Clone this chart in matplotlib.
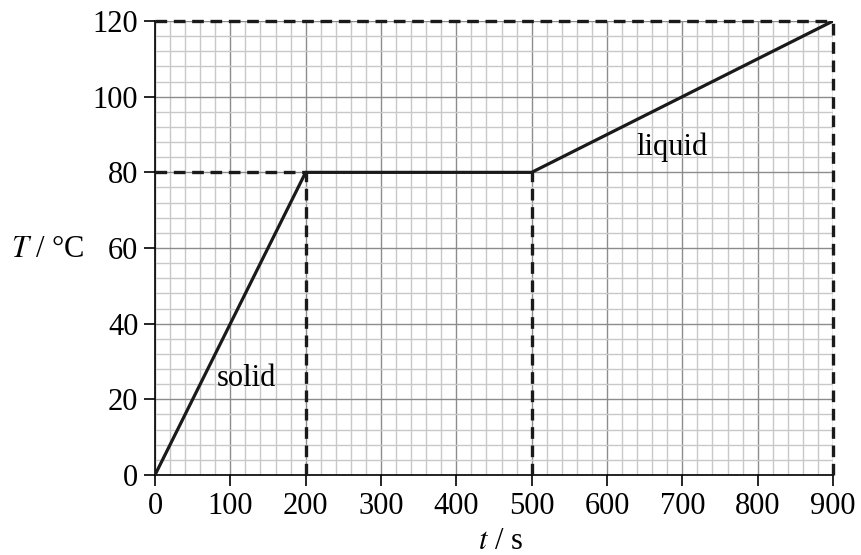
import numpy as np
import matplotlib.pyplot as plt
from matplotlib.ticker import MultipleLocator

# heating curve data
t = [0, 200, 500, 900]
T = [0, 80, 80, 120]

x_ticks = [0, 100, 200, 300, 400, 500, 600, 700, 800, 900]
y_ticks = [0, 20, 40, 60, 80, 100, 120]

plt.rcParams['font.family'] = ['Liberation Serif', 'DejaVu Serif']
plt.rcParams['mathtext.fontset'] = 'stix'

fig = plt.figure(figsize=(8.61, 5.55), dpi=100)
ax = fig.add_axes([0.18, 0.1441, 0.7875, 0.818])

ax.set_xlim(0, 900)
ax.set_ylim(0, 120)

ax.xaxis.set_minor_locator(MultipleLocator(20))
ax.yaxis.set_minor_locator(MultipleLocator(4))
ax.grid(which='minor', color='#c8c8c8', lw=1.0, zorder=0)
ax.grid(which='major', color='#8c8c8c', lw=1.0, zorder=0)
ax.set_axisbelow(True)

ax.set_xticks(x_ticks)
ax.set_yticks(y_ticks)
ax.tick_params(which='major', direction='out', length=8, width=1.2, labelsize=22, pad=4)
ax.tick_params(which='minor', length=0)

for s in ['top', 'right']:
    ax.spines[s].set_visible(False)
for s in ['left', 'bottom']:
    ax.spines[s].set_linewidth(1.2)

# dashed guide lines
dash = dict(color='#1a1a1a', lw=2.4, ls=(0, (3.5, 2.0)), zorder=3, clip_on=False)
ax.plot([0, 200], [80, 80], **dash)
ax.plot([200, 200], [0, 80], **dash)
ax.plot([500, 500], [0, 80], **dash)
ax.plot([0, 900], [120, 120], **dash)
ax.plot([900, 900], [0, 120], **dash)

ax.plot(t, T, color='#1a1a1a', lw=2.3, zorder=4, solid_capstyle='round')

ax.text(121, 25.5, 'solid', fontsize=22, ha='center', va='center')
ax.text(686, 86.6, 'liquid', fontsize=22, ha='center', va='center')

fig.text(0.055, 0.551, r'$T$ / °C', fontsize=22, ha='center', va='center')
fig.text(0.581, 0.025, r'$t$ / s', fontsize=22, ha='center', va='center')

plt.savefig('out.png', dpi=100)
